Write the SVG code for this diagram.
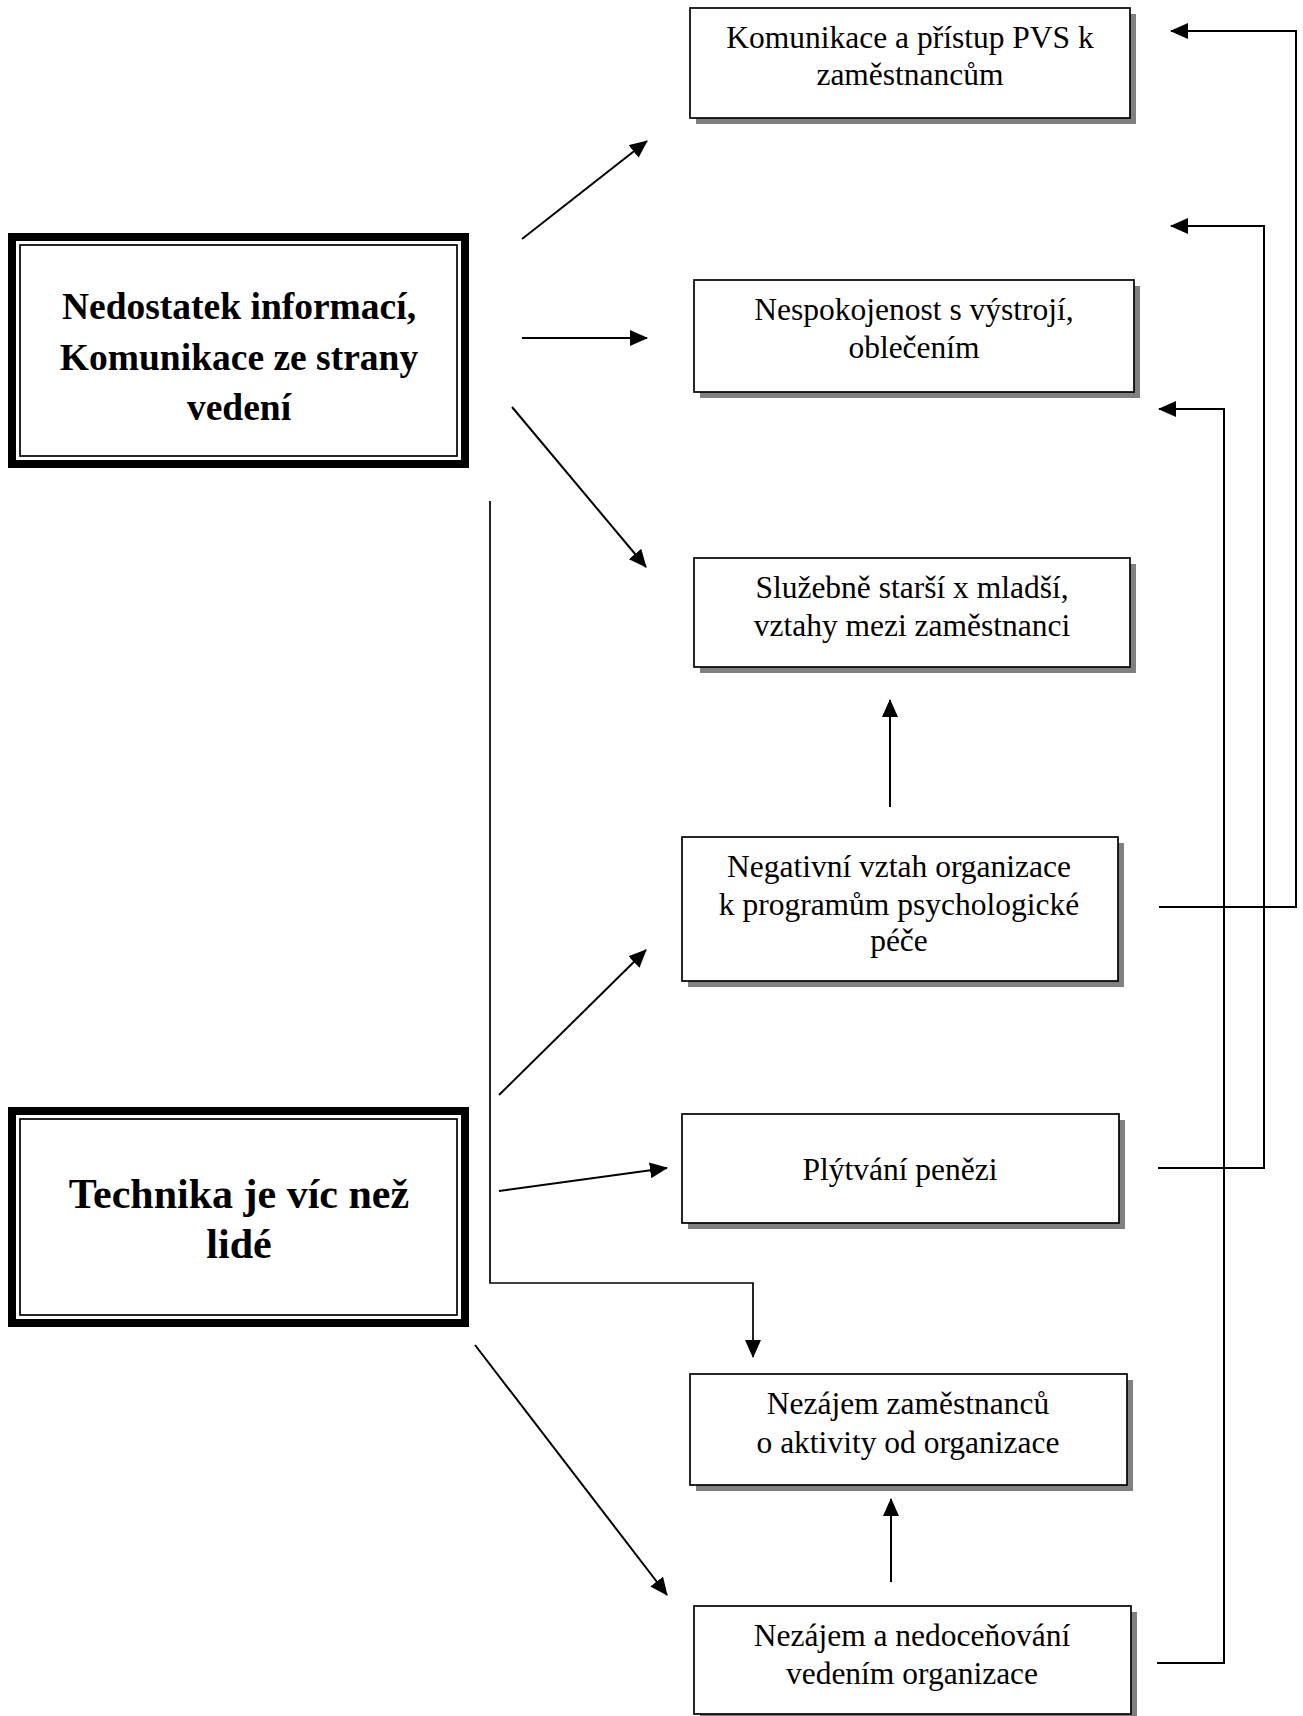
<svg xmlns="http://www.w3.org/2000/svg" width="1303" height="1716" viewBox="0 0 1303 1716">
<style>
  .bg { fill: #ffffff; }
  .thick { fill: #ffffff; stroke: #000000; stroke-width: 8; }
  .thin2 { fill: none; stroke: #000000; stroke-width: 1.7; }
  .box { fill: #ffffff; stroke: #000000; stroke-width: 1.7; }
  .shadow { fill: #808080; }
  .bold { font-family: "Liberation Serif", "Times New Roman", serif; font-weight: bold; fill: #000; text-anchor: middle; }
  .reg { font-family: "Liberation Serif", "Times New Roman", serif; font-size: 31.5px; fill: #000; text-anchor: middle; }
  .con { fill: none; stroke: #000000; stroke-width: 2; }
  .arr { marker-end: url(#ah); }
</style>
<defs>
  <marker id="ah" markerUnits="userSpaceOnUse" markerWidth="18" markerHeight="16" refX="17" refY="8" orient="auto">
    <path d="M0,0 L18,8 L0,16 Z" fill="#000000"/>
  </marker>
</defs>
<rect class="bg" x="0" y="0" width="1303" height="1716"/>

<g id="node-nedostatek">
  <rect class="thick" x="12" y="237" width="453" height="227"/>
  <rect class="thin2" x="20" y="245" width="437" height="211"/>
  <text class="bold" font-size="37.5" x="239" y="319">Nedostatek informací,</text>
  <text class="bold" font-size="37.5" x="239" y="370">Komunikace ze strany</text>
  <text class="bold" font-size="37.5" x="239" y="420">vedení</text>
</g>

<g id="node-technika">
  <rect class="thick" x="12" y="1111" width="453" height="212"/>
  <rect class="thin2" x="20" y="1119" width="437" height="196"/>
  <text class="bold" font-size="42" x="239" y="1208">Technika je víc než</text>
  <text class="bold" font-size="42" x="239" y="1258">lidé</text>
</g>

<g id="node-komunikace">
  <rect class="shadow" x="696" y="14" width="440" height="110"/>
  <rect class="box" x="690" y="8" width="440" height="110"/>
  <text class="reg" x="910" y="48">Komunikace a přístup PVS k</text>
  <text class="reg" x="910" y="85">zaměstnancům</text>
</g>

<g id="node-nespokojenost">
  <rect class="shadow" x="700" y="286" width="440" height="112"/>
  <rect class="box" x="694" y="280" width="440" height="112"/>
  <text class="reg" x="914" y="320">Nespokojenost s výstrojí,</text>
  <text class="reg" x="914" y="358">oblečením</text>
</g>

<g id="node-sluzebne">
  <rect class="shadow" x="700" y="564" width="436" height="109"/>
  <rect class="box" x="694" y="558" width="436" height="109"/>
  <text class="reg" x="912" y="598">Služebně starší x mladší,</text>
  <text class="reg" x="912" y="636">vztahy mezi zaměstnanci</text>
</g>

<g id="node-negativni">
  <rect class="shadow" x="688" y="843" width="436" height="144"/>
  <rect class="box" x="682" y="837" width="436" height="144"/>
  <text class="reg" x="899" y="877">Negativní vztah organizace</text>
  <text class="reg" x="899" y="915">k programům psychologické</text>
  <text class="reg" x="899" y="951">péče</text>
</g>

<g id="node-plytvani">
  <rect class="shadow" x="688" y="1120" width="437" height="109"/>
  <rect class="box" x="682" y="1114" width="437" height="109"/>
  <text class="reg" x="900" y="1180">Plýtvání penězi</text>
</g>

<g id="node-nezajem-zam">
  <rect class="shadow" x="696" y="1380" width="437" height="111"/>
  <rect class="box" x="690" y="1374" width="437" height="111"/>
  <text class="reg" x="908" y="1414">Nezájem zaměstnanců</text>
  <text class="reg" x="908" y="1453">o aktivity od organizace</text>
</g>

<g id="node-nedocenovani">
  <rect class="shadow" x="700" y="1612" width="437" height="108"/>
  <rect class="box" x="694" y="1606" width="437" height="108"/>
  <text class="reg" x="912" y="1646">Nezájem a nedoceňování</text>
  <text class="reg" x="912" y="1684">vedením organizace</text>
</g>

<g id="connectors">
  <line class="con arr" x1="522" y1="239" x2="647" y2="141"/>
  <line class="con arr" x1="522" y1="338" x2="647" y2="338"/>
  <line class="con arr" x1="512" y1="407" x2="646" y2="567"/>
  <polyline class="con arr" style="stroke-width:1.7" points="490,501 490,1283 753,1283 753,1357"/>
  <line class="con arr" x1="499" y1="1095" x2="646" y2="950"/>
  <line class="con arr" x1="499" y1="1191" x2="667" y2="1168"/>
  <line class="con arr" x1="475" y1="1345" x2="667" y2="1595"/>
  <line class="con arr" x1="890" y1="807" x2="890" y2="700"/>
  <line class="con arr" x1="891" y1="1582" x2="891" y2="1499"/>
  <polyline class="con arr" points="1159,907 1296,907 1296,31 1171,31"/>
  <polyline class="con arr" points="1158,1168 1264,1168 1264,226 1171,226"/>
  <polyline class="con arr" points="1157,1663 1224,1663 1224,409 1159,409"/>
</g>
</svg>
